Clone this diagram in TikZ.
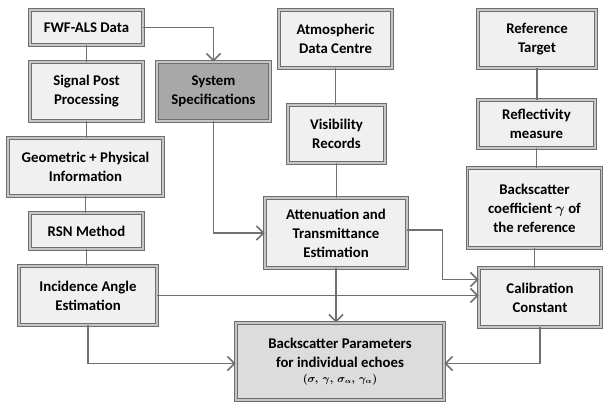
\documentclass[tikz,border=0pt]{standalone}
\usepackage{fontspec}
\usepackage{amsmath}
\setmainfont{Carlito}
\usetikzlibrary{arrows.meta}
\definecolor{boxfill}{HTML}{F0F0F0}
\definecolor{boxdark}{HTML}{A8A8A8}
\definecolor{bigfill}{HTML}{DCDCDC}
\definecolor{edge}{HTML}{6E6E6E}
\definecolor{linec}{HTML}{707070}
\tikzset{
  blk/.style={draw=edge, line width=0.8pt, double=gray!45, double distance=1.8pt,
    fill=boxfill, align=center, inner sep=2pt,
    font=\fontsize{14.8}{19}\selectfont\bfseries, text=black},
  conn/.style={draw=linec, line width=1.8pt},
  arr/.style={conn, -{Straight Barb[length=7pt,width=14pt,line width=1.6pt]}},
}
\begin{document}
\begin{tikzpicture}[x=1pt,y=-1pt]
\useasboundingbox (0,0) rectangle (603,403);
\node[blk, minimum width=113, minimum height=35] (fwf) at (86.5,27.5) {FWF-ALS Data};
\node[blk, minimum width=113, minimum height=59] (sig) at (86.5,91.5) {Signal Post\\Processing};
\node[blk, fill=boxdark, minimum width=113, minimum height=59] (sys) at (213.5,91.5) {System\\Specifications};
\node[blk, minimum width=155, minimum height=58] (geo) at (85.5,167) {Geometric + Physical\\Information};
\node[blk, minimum width=113, minimum height=36] (rsn) at (86.5,231) {RSN Method};
\node[blk, minimum width=138, minimum height=59] (inc) at (88,295.5) {Incidence Angle\\Estimation};
\node[blk, fill=bigfill, minimum width=208, minimum height=77] (bsp) at (340,361.5) {Backscatter Parameters\\for individual echoes\\[-4pt]{\fontsize{10.5}{11}\selectfont\boldmath$(\sigma,\,\gamma,\,\sigma_\alpha,\,\gamma_\alpha)$}};
\node[blk, minimum width=142, minimum height=70] (att) at (336,233) {Attenuation and\\Transmittance\\Estimation};
\node[blk, minimum width=113, minimum height=58] (atm) at (335.5,39) {Atmospheric\\Data Centre};
\node[blk, minimum width=97, minimum height=58] (vis) at (336.5,134) {Visibility\\Records};
\node[blk, minimum width=118, minimum height=58] (ref) at (537,39) {Reference\\Target};
\node[blk, minimum width=117, minimum height=48] (rfl) at (536.5,124) {Reflectivity\\measure};
\node[blk, minimum width=134, minimum height=80] (bsc) at (534.5,208) {Backscatter\\coefficient $\boldsymbol{\gamma}$ of\\the reference};
\node[blk, minimum width=122, minimum height=59] (cal) at (540,297.5) {Calibration\\Constant};
% plain links
\draw[conn] (fwf.south) -- (fwf.south |- sig.north);
\draw[conn] (sig.south) -- (sig.south |- geo.north);
\draw[conn] (geo.south) -- (geo.south |- rsn.north);
\draw[conn] (rsn.south) -- (rsn.south |- inc.north);
\draw[conn] (atm.south) -- (atm.south |- vis.north);
\draw[conn] (vis.south) -- (vis.south |- att.north);
\draw[conn] (ref.south) -- (ref.south |- rfl.north);
\draw[conn] (rfl.south) -- (rfl.south |- bsc.north);
\draw[conn] (bsc.south) -- (bsc.south |- cal.north);
% arrows
\draw[arr] (fwf.east) -| (sys.north);
\draw[arr] (sys.south) |- (att.west);
\draw[arr] ([yshift=3pt]att.east) -- ++(35,0) |- ([yshift=18pt]cal.west);
\draw[arr] (inc.east) -- (inc.east -| cal.west);
\draw[arr] (att.south) -- (att.south |- bsp.north);
\draw[arr] (inc.south) |- ([yshift=-2pt]bsp.west);
\draw[arr] (cal.south) |- ([yshift=-2pt]bsp.east);
\end{tikzpicture}
\end{document}
